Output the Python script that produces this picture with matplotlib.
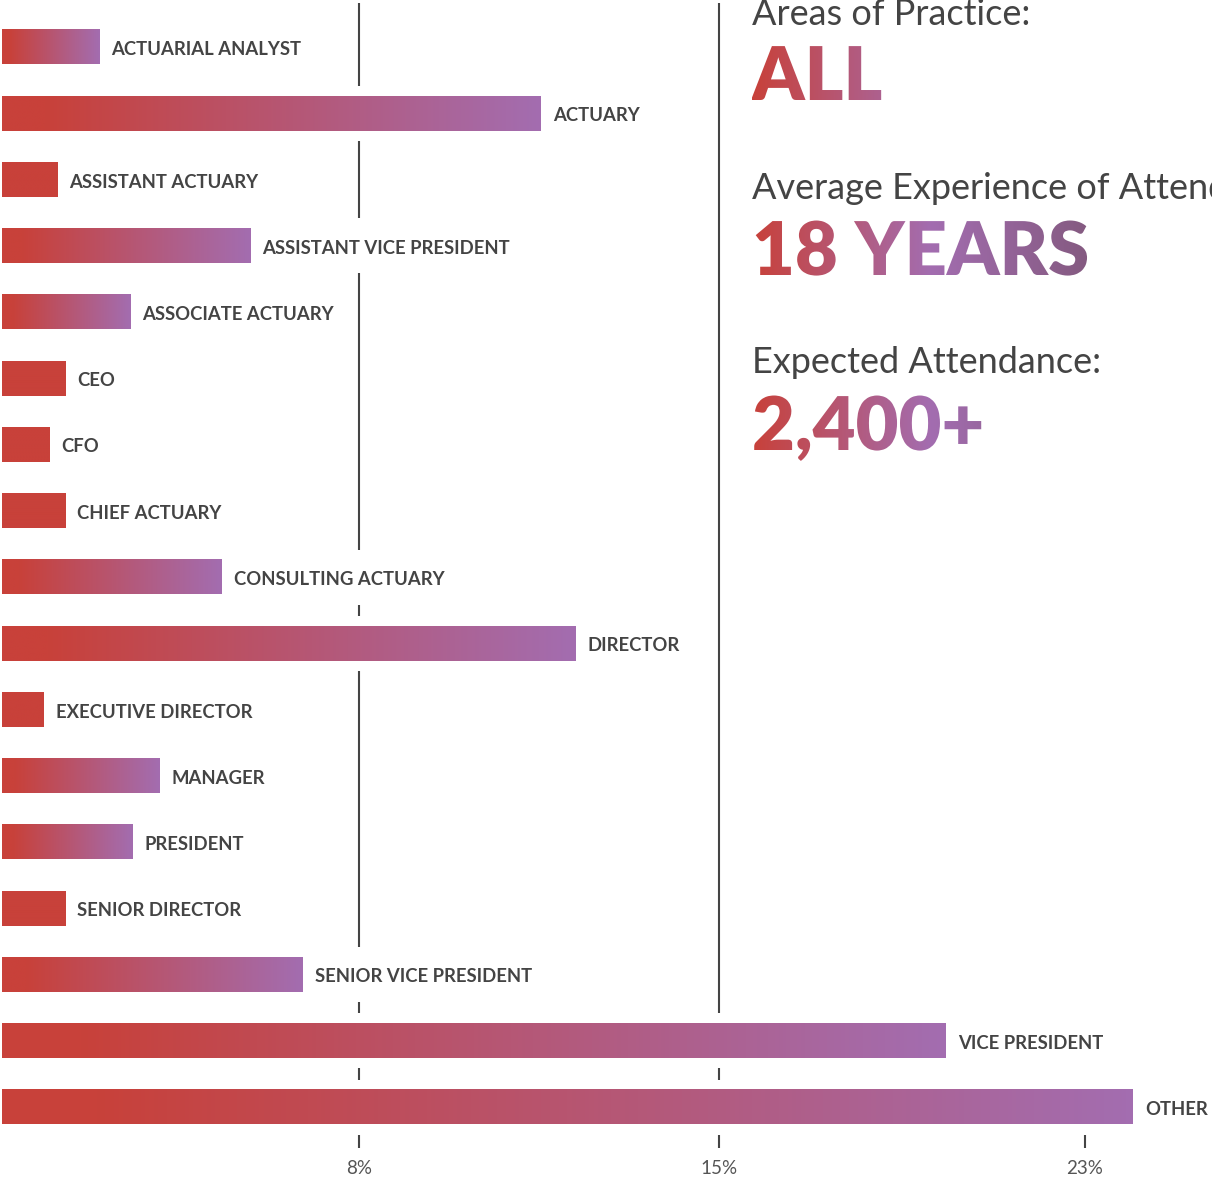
import numpy as np
import matplotlib.pyplot as plt
from matplotlib.colors import LinearSegmentedColormap
from matplotlib.patches import Rectangle, PathPatch
from matplotlib.textpath import TextPath
from matplotlib.font_manager import FontProperties

# attendee job titles and their share (%)
roles = ['ACTUARIAL ANALYST', 'ACTUARY', 'ASSISTANT ACTUARY', 'ASSISTANT VICE PRESIDENT',
         'ASSOCIATE ACTUARY', 'CEO', 'CFO', 'CHIEF ACTUARY', 'CONSULTING ACTUARY',
         'DIRECTOR', 'EXECUTIVE DIRECTOR', 'MANAGER', 'PRESIDENT', 'SENIOR DIRECTOR',
         'SENIOR VICE PRESIDENT', 'VICE PRESIDENT', 'OTHER']
shares = [2.06, 11.44, 1.17, 5.27, 2.72, 1.34, 1.0, 1.34, 4.67,
          12.17, 0.89, 3.35, 2.78, 1.34, 6.39, 20.04, 24.01]
tick_vals = [7.58, 15.22, 22.99]
tick_labels = ['8%', '15%', '23%']

# side panel
headings = ['Areas of Practice:', 'Average Experience of Attendees:', 'Expected Attendance:']
figures = ['ALL', '18 YEARS', '2,400+']

FONT = 'Lato'
RED = '#C8413A'
W, H = 1212, 1182
PX = 47.1     # pixels per percent
ROW = 66.25   # pixels per row

fig = plt.figure(figsize=(W / 100, H / 100), dpi=100)
ax = fig.add_axes([2 / W, 0, 1 - 2 / W, 1])

bar_cmap = LinearSegmentedColormap.from_list(
    'bar', [(0, RED), (0.08, RED), (1, '#A36DB0')])
flat_cmap = LinearSegmentedColormap.from_list('flat', [RED, RED])
grad = np.linspace(0, 1, 256)[None, :]

# gridlines
top = -44 / ROW
bottom = (1148 - 47) / ROW
ax.vlines(tick_vals[:2], top, bottom, color='#444444', lw=1.5, zorder=0)
ax.vlines(tick_vals[2], (1133 - 47) / ROW, bottom, color='#444444', lw=1.5, zorder=0)

half = 17.5 / ROW
texts = []
for i, (name, v) in enumerate(zip(roles, shares)):
    # the shortest bars come out plain red
    cm = flat_cmap if v < 1.5 else bar_cmap
    ax.imshow(grad, cmap=cm, extent=(0, v, i + half, i - half),
              aspect='auto', zorder=3, interpolation='bilinear')
    t = ax.text(v + 12 / PX, i + 8 / ROW, name, fontsize=13.3, fontweight='bold',
                family=FONT, color='#444444', va='baseline', zorder=4)
    texts.append(t)

for k, lab in zip(tick_vals, tick_labels):
    ax.text(k, (1169 - 47) / ROW, lab, fontsize=13.5, family=FONT, color='#555555',
            ha='center', va='center')

ax.set_xlim(0, (W - 2) / PX)
ax.set_ylim((H - 47) / ROW, -47 / ROW)
ax.axis('off')

# white boxes behind each row hide the gridlines
fig.canvas.draw()
r = fig.canvas.get_renderer()
inv = ax.transData.inverted()
for i, t in enumerate(texts):
    bb = t.get_window_extent(r)
    x1 = inv.transform((bb.x1 + 4, 0))[0]
    ax.add_patch(Rectangle((0, i - 27.5 / ROW), x1, 55 / ROW,
                           fc='white', ec='none', zorder=1))

# side panel in pixel coordinates
ov = fig.add_axes([0, 0, 1, 1], zorder=5)
ov.patch.set_alpha(0)
txt_cmap = LinearSegmentedColormap.from_list(
    'txt', [(0, RED), (0.53, '#A36DB0'), (1, '#845A80')])

for s, base in zip(headings, [25, 199, 373]):
    ov.text(752, H - base, s, fontsize=26, family=FONT, color='#444444', va='baseline')

for s, base in zip(figures, [100, 275, 450]):
    path = TextPath((752, H - base), s, size=74,
                    prop=FontProperties(family=FONT, weight='heavy'))
    patch = PathPatch(path, fc='none', ec='none', transform=ov.transData)
    ov.add_patch(patch)
    im = ov.imshow(grad, cmap=txt_cmap, extent=(752, 1090, H - base - 30, H - base + 70),
                   aspect='auto', zorder=5)
    im.set_clip_path(patch)

ov.set_xlim(0, W)
ov.set_ylim(0, H)
ov.axis('off')

fig.savefig('out.png', dpi=100, facecolor='white')
